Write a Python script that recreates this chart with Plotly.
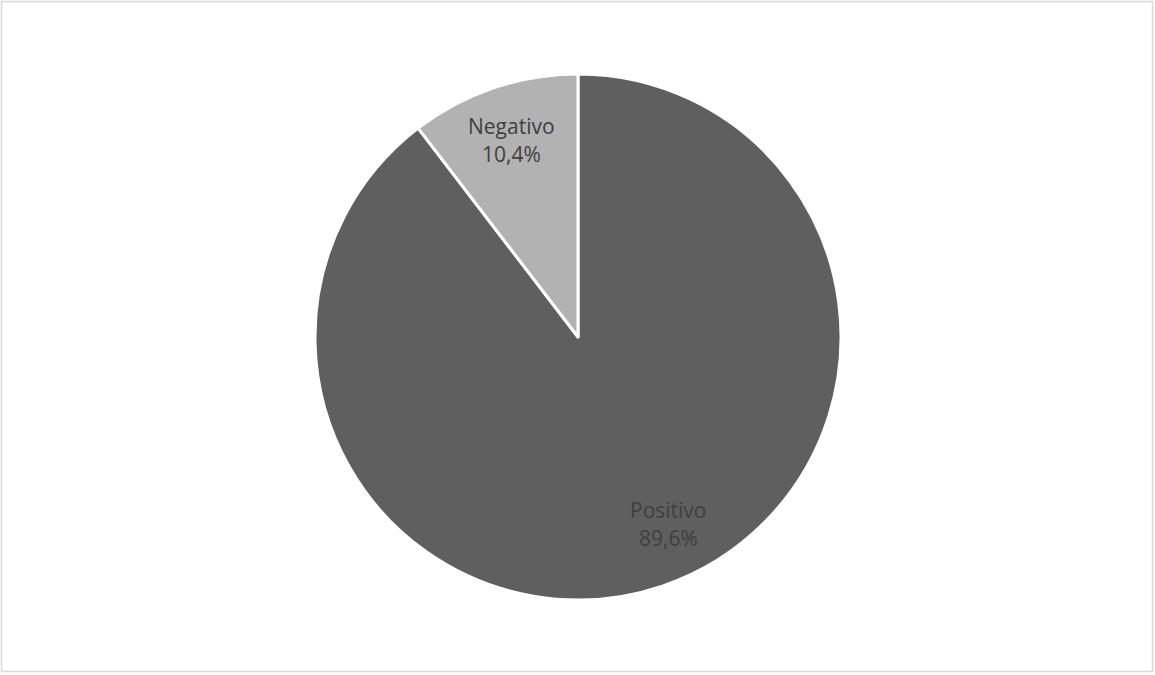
import math
import plotly.graph_objects as go

# Share of responses by outcome
labels = ["Positivo", "Negativo"]
values = [89.6, 10.4]
colors = ["#5f5f5f", "#b2b2b2"]

W, H = 1155, 675
cx, cy, r = 578, 338, 263      # pie centre (from bottom) and radius in px
label_frac = 0.79              # radial position of the slice labels
label_turn = [-7.0, 0.0]       # small angular nudge per label, degrees
text_color = "#404040"
font_family = "Open Sans"

fig = go.Figure(go.Pie(
    labels=labels,
    values=values,
    sort=False,
    direction="clockwise",
    rotation=0,
    marker=dict(colors=colors, line=dict(color="white", width=3)),
    textinfo="none",
    hoverinfo="label+percent",
    showlegend=False,
    domain=dict(x=[(cx - r) / W, (cx + r) / W], y=[(cy - r) / H, (cy + r) / H]),
))

# Slice labels placed near each slice's mid-angle (clockwise from 12 o'clock)
annotations = []
total = sum(values)
start = 0.0
for lab, val, turn in zip(labels, values, label_turn):
    frac = val / total
    mid = 2 * math.pi * (start + frac / 2) + math.radians(turn)
    start += frac
    px = cx + label_frac * r * math.sin(mid)
    py = cy + label_frac * r * math.cos(mid)
    pct = f"{100 * frac:.1f}".replace(".", ",") + "%"
    for txt, shift in ((lab, 14), (pct, -14)):
        annotations.append(dict(
            x=px / W, y=py / H, xref="paper", yref="paper",
            text=txt, showarrow=False, yshift=shift,
            xanchor="center", yanchor="middle",
            font=dict(family=font_family, size=21, color=text_color),
        ))

fig.update_layout(
    width=W, height=H,
    margin=dict(l=0, r=0, t=0, b=0),
    paper_bgcolor="white",
    separators=",.",
    annotations=annotations,
    shapes=[dict(
        type="rect", xref="paper", yref="paper",
        x0=1.5 / W, x1=1 - 2.5 / W, y0=3.5 / H, y1=1 - 1.5 / H,
        line=dict(color="#d9d9d9", width=1.5), fillcolor="rgba(0,0,0,0)",
    )],
)

fig.write_html("out.html")
